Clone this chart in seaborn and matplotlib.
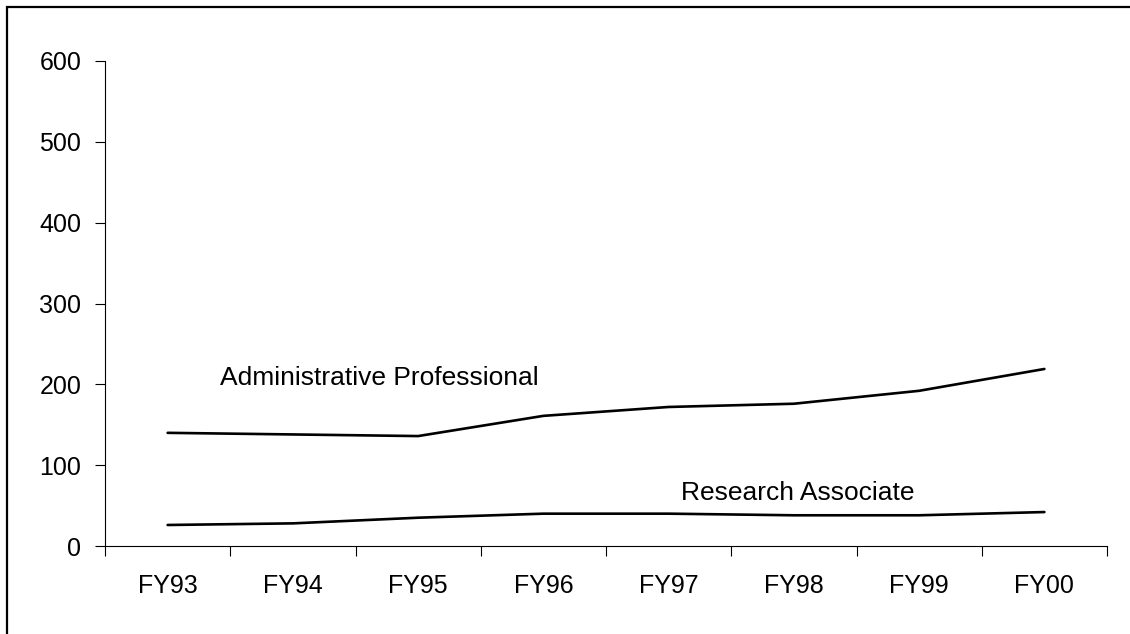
import matplotlib
matplotlib.use("Agg")
import matplotlib.pyplot as plt
import seaborn as sns
import pandas as pd
from matplotlib.patches import Rectangle

years = ["FY93", "FY94", "FY95", "FY96", "FY97", "FY98", "FY99", "FY00"]
admin_prof = [140, 138, 136, 161, 172, 176, 192, 219]
research_assoc = [26, 28, 35, 40, 40, 38, 38, 42]

df = pd.DataFrame({
    "pos": list(range(len(years))) * 2,
    "value": admin_prof + research_assoc,
    "series": ["Administrative Professional"] * len(years) + ["Research Associate"] * len(years),
})

sns.set_style("white")
plt.rcParams["font.family"] = ["Liberation Sans", "DejaVu Sans"]
plt.rcParams["text.color"] = "black"
plt.rcParams["xtick.color"] = "black"
plt.rcParams["ytick.color"] = "black"

fig = plt.figure(figsize=(11.3, 6.34), dpi=100)
ax = fig.add_axes([105 / 1130, 1 - 546 / 634, (1107 - 105) / 1130, (546 - 61) / 634])

sns.lineplot(data=df, x="pos", y="value", units="series", estimator=None,
             color="black", linewidth=1.9, ax=ax, legend=False)

ax.set_xlim(-0.5, len(years) - 0.5)
ax.set_ylim(0, 600)
ax.set_xlabel("")
ax.set_ylabel("")

# category labels centred, tick marks on the boundaries
ax.set_xticks(range(len(years)))
ax.set_xticklabels(years)
ax.set_xticks([i - 0.5 for i in range(len(years) + 1)], minor=True)
ax.tick_params(axis="x", which="major", length=0, pad=20, labelsize=18, labelcolor="black")
ax.tick_params(axis="x", which="minor", length=7, width=0.8, color="black", direction="out", bottom=True)
ax.set_yticks(range(0, 601, 100))
ax.tick_params(axis="y", length=7, width=0.8, color="black", direction="out", pad=10,
               labelsize=18, labelcolor="black", left=True)

for side in ["top", "right"]:
    ax.spines[side].set_visible(False)
for side in ["left", "bottom"]:
    ax.spines[side].set_color("black")
    ax.spines[side].set_linewidth(0.8)

ax.text(0.42, 208, "Administrative Professional", fontsize=19, color="black", va="center", ha="left")
ax.text(4.1, 66, "Research Associate", fontsize=19, color="black", va="center", ha="left")

# outer frame (cropped on the right and bottom)
fig.patches.append(Rectangle((7 / 1130, -0.1), 1.2, 1.1 - 7 / 634, transform=fig.transFigure,
                             fill=False, edgecolor="black", linewidth=1.6))

fig.savefig("out.png", dpi=100)
